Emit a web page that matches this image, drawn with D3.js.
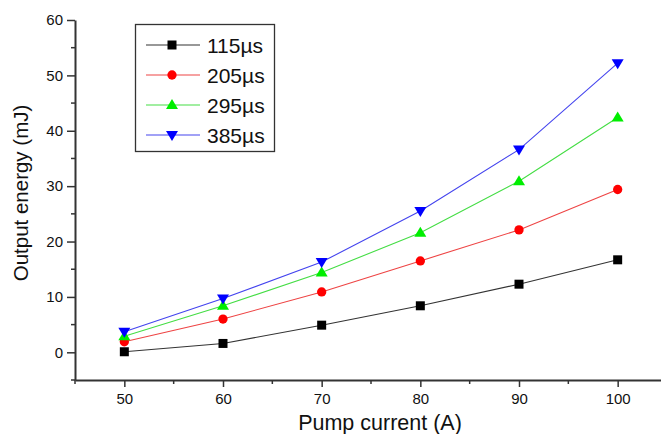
<!DOCTYPE html>
<html>
<head>
<meta charset="utf-8">
<script src="https://cdn.jsdelivr.net/npm/d3@7"></script>
<style>
	body { margin: 0; background: #fff; }
	svg { display: block; font-family: "Liberation Sans", Arial, sans-serif; }
</style>
</head>
<body>
<svg width="661" height="434"></svg>
<script>
// pump current (A)
var currents = [50, 60, 70, 80, 90, 100];

// output energy (mJ) for each pulse width
var e115 = [0.1, 1.6, 4.9, 8.4, 12.3, 16.7];
var e205 = [1.9, 6.0, 10.9, 16.5, 22.1, 29.4];
var e295 = [2.9, 8.4, 14.4, 21.6, 30.9, 42.4];
var e385 = [3.7, 9.7, 16.3, 25.5, 36.6, 52.2];

var seriesNames = ['115µs', '205µs', '295µs', '385µs'];
var xTicks = [50, 60, 70, 80, 90, 100];
var yTicks = [0, 10, 20, 30, 40, 50, 60];

var series = [
	{ name: seriesNames[0], values: e115, color: '#000000', line: '#333333', sym: 'square' },
	{ name: seriesNames[1], values: e205, color: '#ff0000', line: '#ee4444', sym: 'circle' },
	{ name: seriesNames[2], values: e295, color: '#00ee00', line: '#44dd44', sym: 'up' },
	{ name: seriesNames[3], values: e385, color: '#0000ff', line: '#4444ee', sym: 'down' }
];

var svg = d3.select('svg');
var x = d3.scaleLinear().domain([45, 105]).range([75, 667]);
var y = d3.scaleLinear().domain([-5, 60]).range([380, 20]);

// marker shapes, centred on 0,0
function symbolPath(sym){
	if( sym == 'square' ) return 'M-4.5,-4.5H4.5V4.5H-4.5Z';
	if( sym == 'circle' ) return d3.symbol().type(d3.symbolCircle).size(68)();
	if( sym == 'up' ) return 'M0,-6L6,4L-6,4Z';
	return 'M0,6L6,-4L-6,-4Z';
}

// lines
var line = d3.line()
	.x(function(d, i){ return x(currents[i]); })
	.y(function(d){ return y(d); });

series.forEach(function(s){
	svg.append('path')
		.attr('d', line(s.values))
		.attr('fill', 'none')
		.attr('stroke', s.line)
		.attr('stroke-width', 1.1);
});

// markers, drawn after the lines so they sit on top
series.forEach(function(s){
	svg.append('g').selectAll('path')
		.data(s.values)
		.enter().append('path')
			.attr('d', symbolPath(s.sym))
			.attr('transform', function(d, i){ return 'translate(' + x(currents[i]) + ',' + y(d) + ')'; })
			.attr('fill', s.color);
});

// axes
function customXAxis(g){
	g.call(d3.axisBottom(x).tickValues(xTicks).tickSize(7).tickPadding(6).tickSizeOuter(0));
	g.select('.domain').attr('stroke', '#333').attr('stroke-width', 2);
	g.selectAll('.tick line').attr('stroke', '#333').attr('stroke-width', 1.5);
	g.selectAll('text').attr('font-size', 15).attr('fill', '#111');
	// minor ticks
	g.selectAll('.minor')
		.data(d3.range(45, 105, 10))
		.enter().append('line')
			.attr('x1', function(d){ return x(d); })
			.attr('x2', function(d){ return x(d); })
			.attr('y1', 0).attr('y2', 4)
			.attr('stroke', '#333').attr('stroke-width', 1.5);
}

function customYAxis(g){
	g.call(d3.axisLeft(y).tickValues(yTicks).tickSize(8).tickPadding(4).tickSizeOuter(0));
	g.select('.domain').attr('stroke', '#333').attr('stroke-width', 2);
	g.selectAll('.tick line').attr('stroke', '#333').attr('stroke-width', 1.5);
	g.selectAll('text').attr('font-size', 15).attr('fill', '#111');
	g.selectAll('.minor')
		.data(d3.range(-5, 60, 10))
		.enter().append('line')
			.attr('y1', function(d){ return y(d); })
			.attr('y2', function(d){ return y(d); })
			.attr('x1', 0).attr('x2', -4)
			.attr('stroke', '#333').attr('stroke-width', 1.5);
}

svg.append('g')
	.attr('transform', 'translate(0,' + y(-5) + ')')
	.call(customXAxis);

svg.append('g')
	.attr('transform', 'translate(' + x(45) + ',0)')
	.call(customYAxis);

// axis titles
svg.append('text')
	.attr('x', 380).attr('y', 430)
	.attr('text-anchor', 'middle')
	.attr('font-size', 21.5)
	.attr('fill', '#111')
	.text('Pump current (A)');

svg.append('text')
	.attr('transform', 'translate(28,193) rotate(-90)')
	.attr('text-anchor', 'middle')
	.attr('font-size', 20.5)
	.attr('fill', '#111')
	.text('Output energy (mJ)');

// legend
var legend = svg.append('g');
legend.append('rect')
	.attr('x', 135.5).attr('y', 24.5)
	.attr('width', 139).attr('height', 127)
	.attr('fill', '#fff')
	.attr('stroke', '#333').attr('stroke-width', 1.3);

var items = legend.selectAll('.item')
	.data(series)
	.enter().append('g')
		.attr('transform', function(d, i){ return 'translate(0,' + (45 + i * 30) + ')'; });

items.append('line')
	.attr('x1', 146).attr('x2', 200)
	.attr('stroke', function(d){ return d.line; })
	.attr('stroke-width', 1.1);

items.append('path')
	.attr('d', function(d){ return symbolPath(d.sym); })
	.attr('transform', 'translate(172,0)')
	.attr('fill', function(d){ return d.color; });

items.append('text')
	.attr('x', 207).attr('y', 7.5)
	.attr('font-size', 21)
	.attr('fill', '#111')
	.text(function(d){ return d.name; });
</script>
</body>
</html>
